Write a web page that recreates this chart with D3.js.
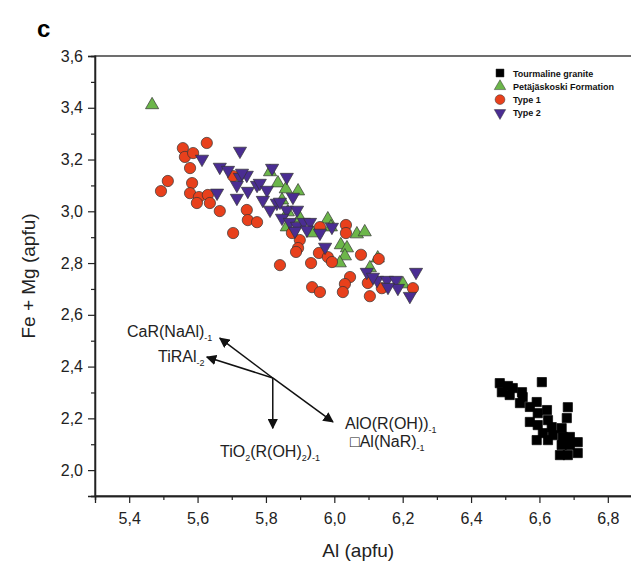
<!DOCTYPE html>
<html>
<head>
<meta charset="utf-8">
<script src="https://cdnjs.cloudflare.com/ajax/libs/d3/7.8.5/d3.min.js"></script>
<style>
  body { margin: 0; background: #fff; }
  svg { font-family: Arial, "Liberation Sans", sans-serif; }
</style>
</head>
<body>
<div id="graphContainer"></div>
<script>
// data, [Al, Fe + Mg] in apfu
var granite = [
    [6.484, 2.336], [6.490, 2.301], [6.508, 2.325], [6.522, 2.317], [6.513, 2.290],
    [6.549, 2.301], [6.551, 2.282], [6.607, 2.340], [6.543, 2.259], [6.572, 2.244],
    [6.592, 2.263], [6.595, 2.220], [6.622, 2.232], [6.572, 2.186], [6.595, 2.174],
    [6.625, 2.193], [6.636, 2.166], [6.610, 2.143], [6.639, 2.135], [6.592, 2.116],
    [6.665, 2.162], [6.680, 2.201], [6.683, 2.243], [6.668, 2.128], [6.689, 2.128],
    [6.665, 2.097], [6.689, 2.097], [6.712, 2.108], [6.660, 2.058], [6.683, 2.058],
    [6.712, 2.066], [6.625, 2.116]
];

var petajaskoski = [
    [5.467, 3.411], [5.812, 3.152], [5.835, 3.109], [5.858, 3.086], [5.894, 3.078],
    [5.864, 2.997], [5.861, 2.939], [5.937, 2.916], [5.981, 2.970], [5.990, 2.939],
    [6.019, 2.870], [6.037, 2.858], [6.031, 2.827], [6.016, 2.800], [6.066, 2.912],
    [6.089, 2.920], [6.104, 2.781], [6.127, 2.819], [6.201, 2.719], [5.847, 3.043],
    [5.899, 2.974]
];

var type1 = [
    [5.557, 3.244], [5.627, 3.264], [5.563, 3.210], [5.587, 3.225], [5.578, 3.167],
    [5.513, 3.117], [5.493, 3.078], [5.584, 3.109], [5.578, 3.070], [5.604, 3.055],
    [5.598, 3.032], [5.630, 3.063], [5.636, 3.032], [5.665, 3.001], [5.704, 2.916],
    [5.744, 3.005], [5.747, 2.966], [5.774, 2.958], [5.704, 3.136], [5.899, 2.889],
    [5.894, 2.858], [5.888, 2.843], [5.841, 2.792], [5.932, 2.800], [5.955, 2.839],
    [5.981, 2.823], [5.993, 2.804], [6.034, 2.947], [6.034, 2.916], [6.078, 2.832],
    [6.130, 2.816], [6.046, 2.746], [6.031, 2.719], [6.025, 2.688], [5.935, 2.707],
    [5.958, 2.688], [6.104, 2.672], [6.098, 2.723], [6.139, 2.703], [6.230, 2.703],
    [5.958, 2.939], [5.876, 2.916]
];

var type2 = [
    [5.613, 3.202], [5.724, 3.233], [5.665, 3.171], [5.689, 3.159], [5.724, 3.132],
    [5.744, 3.140], [5.715, 3.101], [5.747, 3.078], [5.774, 3.101], [5.657, 3.071],
    [5.715, 3.051], [5.782, 3.109], [5.818, 3.167], [5.803, 3.082], [5.861, 3.132],
    [5.791, 3.043], [5.832, 3.032], [5.879, 3.055], [5.861, 3.005], [5.812, 3.005],
    [5.841, 3.036], [5.891, 3.005], [5.847, 2.974], [5.870, 2.958], [5.891, 2.943],
    [5.911, 2.958], [5.929, 2.958], [5.885, 2.924], [5.920, 2.928], [5.958, 2.916],
    [5.993, 2.939], [5.973, 2.862], [6.095, 2.765], [6.125, 2.734], [6.154, 2.734],
    [6.180, 2.734], [6.186, 2.703], [6.157, 2.707], [6.239, 2.765], [6.221, 2.672],
    [6.113, 2.746], [5.730, 3.148]
];

var xTicks = [5.4, 5.6, 5.8, 6.0, 6.2, 6.4, 6.6, 6.8];
var yTicks = [2.0, 2.2, 2.4, 2.6, 2.8, 3.0, 3.2, 3.4, 3.6];

// exchange vectors, all from one origin
var vectorOrigin = [5.820, 2.356];
var vectorEnds = [[5.665, 2.510], [5.627, 2.437], [5.820, 2.162], [5.996, 2.186]];

var series = [
    {name: "Tourmaline granite", data: granite, shape: d3.symbolSquare, color: "#000000", rot: 0, size: 85},
    {name: "Petäjäskoski Formation", data: petajaskoski, shape: d3.symbolTriangle, color: "#6cb64a", rot: 0, size: 75},
    {name: "Type 1", data: type1, shape: d3.symbolCircle, color: "#e8401c", rot: 0, size: 100},
    {name: "Type 2", data: type2, shape: d3.symbolTriangle, color: "#4a2d92", rot: 180, size: 75}
];

var width = 631,
    height = 567,
    margin = {top: 56, left: 95, bottom: 71, right: -11};

var svg = d3.select("#graphContainer").append("svg")
    .attr("width", width)
    .attr("height", height);

var x = d3.scaleLinear().domain([5.3, 6.9]).range([margin.left, width - margin.right]);
var y = d3.scaleLinear().domain([1.9, 3.6]).range([height - margin.bottom, margin.top]);

// panel letter
svg.append("text")
    .attr("x", 37).attr("y", 37)
    .attr("font-size", 24).attr("font-weight", "bold")
    .text("c");

// frame
svg.append("rect")
    .attr("x", x(5.3)).attr("y", y(3.6))
    .attr("width", x(6.9) - x(5.3)).attr("height", y(1.9) - y(3.6))
    .attr("fill", "none").attr("stroke", "#222").attr("stroke-width", 1.3);

// axes, major with labels and unlabelled minor ticks in between
var xMinor = d3.range(5.3, 6.95, 0.2);
var yMinor = d3.range(1.9, 3.55, 0.2);
var comma = function (d) { return d3.format(".1f")(d).replace(".", ","); };

svg.append("g")
    .attr("transform", "translate(0," + y(1.9) + ")")
    .call(d3.axisBottom(x).tickValues(xTicks).tickSize(7).tickPadding(10).tickFormat(comma));
svg.append("g")
    .attr("transform", "translate(0," + y(1.9) + ")")
    .call(d3.axisBottom(x).tickValues(xMinor).tickSize(4).tickFormat(""));

svg.append("g")
    .attr("transform", "translate(" + x(5.3) + ",0)")
    .call(d3.axisLeft(y).tickValues(yTicks).tickSize(7).tickPadding(5).tickFormat(comma));
svg.append("g")
    .attr("transform", "translate(" + x(5.3) + ",0)")
    .call(d3.axisLeft(y).tickValues(yMinor).tickSize(4).tickFormat(""));

svg.selectAll(".domain").attr("stroke", "#222").attr("stroke-width", 1.3);
svg.selectAll(".tick line").attr("stroke", "#222").attr("stroke-width", 1.2);
svg.selectAll(".tick text").attr("font-size", 16).attr("fill", "#222")
    .attr("font-family", "Arial, 'Liberation Sans', sans-serif");

// axis titles
svg.append("text")
    .attr("x", x(6.07)).attr("y", 557)
    .attr("text-anchor", "middle").attr("font-size", 19).attr("fill", "#222")
    .text("Al (apfu)");

svg.append("text")
    .attr("transform", "translate(35," + y(2.75) + ") rotate(-90)")
    .attr("text-anchor", "middle").attr("font-size", 19).attr("fill", "#222")
    .text("Fe + Mg (apfu)");

// arrow marker
svg.append("defs").append("marker")
    .attr("id", "head")
    .attr("viewBox", "0 0 10 10")
    .attr("refX", 9).attr("refY", 5)
    .attr("markerWidth", 7).attr("markerHeight", 7)
    .attr("orient", "auto")
    .append("path")
    .attr("d", "M0,0 L10,5 L0,10 Z")
    .attr("fill", "#111");

var vec = svg.append("g").attr("class", "vectors");
vec.selectAll("line")
    .data(vectorEnds)
    .enter().append("line")
    .attr("x1", x(vectorOrigin[0])).attr("y1", y(vectorOrigin[1]))
    .attr("x2", function (d) { return x(d[0]); })
    .attr("y2", function (d) { return y(d[1]); })
    .attr("stroke", "#111").attr("stroke-width", 1.5)
    .attr("marker-end", "url(#head)");

// vector labels, parts flagged true are subscripts
function subLabel(px, py, parts) {
    var t = vec.append("text").attr("x", px).attr("y", py)
        .attr("font-size", 16).attr("fill", "#222");
    var down = false;
    parts.forEach(function (p) {
        var s = t.append("tspan").text(p[0]);
        if (p[1]) {
            s.attr("font-size", 9);
            if (!down) s.attr("dy", 4);
            down = true;
        } else if (down) {
            s.attr("dy", -4);
            down = false;
        }
    });
}
subLabel(127, 337, [["CaR(NaAl)"], ["-1", true]]);
subLabel(158, 362, [["TiRAl"], ["-2", true]]);
subLabel(220, 457, [["TiO"], ["2", true], ["(R(OH)"], ["2", true], [")"], ["-1", true]]);
subLabel(345, 429, [["AlO(R(OH))"], ["-1", true]]);
subLabel(350, 447, [["\u25a1Al(NaR)"], ["-1", true]]);

// points, drawn in legend order
var plot = svg.append("g").attr("class", "points");
series.forEach(function (s) {
    plot.append("g").selectAll("path")
        .data(s.data)
        .enter().append("path")
        .attr("d", d3.symbol().type(s.shape).size(s.size))
        .attr("transform", function (d) {
            return "translate(" + x(d[0]) + "," + y(d[1]) + ") rotate(" + s.rot + ")";
        })
        .attr("fill", s.color)
        .attr("stroke", s.color === "#000000" ? "#000" : "#333")
        .attr("stroke-width", 0.7);
});

// legend
var legend = svg.append("g").attr("class", "legend");
var row = legend.selectAll("g")
    .data(series)
    .enter().append("g")
    .attr("transform", function (d, i) { return "translate(500," + (73 + i * 13.3) + ")"; });

row.append("path")
    .attr("d", function (d) { return d3.symbol().type(d.shape).size(d.size * 0.75)(); })
    .attr("transform", function (d) { return "rotate(" + d.rot + ")"; })
    .attr("fill", function (d) { return d.color; })
    .attr("stroke", "#333").attr("stroke-width", 0.5);

row.append("text")
    .attr("x", 13).attr("y", 3.5)
    .attr("font-size", 9).attr("font-weight", "bold").attr("fill", "#111")
    .text(function (d) { return d.name; });
</script>
</body>
</html>
